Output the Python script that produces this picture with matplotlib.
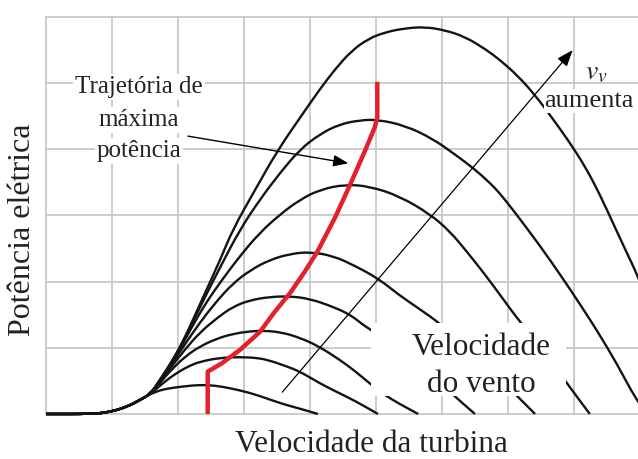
import matplotlib
matplotlib.use('Agg')
import matplotlib.pyplot as plt
from matplotlib.patches import Rectangle, PathPatch
from matplotlib.path import Path

plt.rcParams['font.family'] = ['Liberation Serif', 'DejaVu Serif']
plt.rcParams['mathtext.fontset'] = 'stix'

# ---- data (turbine speed in grid units, electric power in grid units) ----
start_x = [0.0, 0.71, 0.97, 1.23, 1.42, 1.58]
start_y = [0.0, 0.0, 0.03, 0.11, 0.21, 0.30]

c1_x = [1.73, 1.88, 2.11, 2.33, 2.56, 2.79, 3.09, 3.33, 3.59, 3.85, 4.12]
c1_y = [0.36, 0.39, 0.42, 0.44, 0.43, 0.39, 0.32, 0.24, 0.15, 0.08, 0.0]

c2_x = [1.73, 1.88, 2.03, 2.18, 2.33, 2.64, 2.94, 3.17, 3.35, 3.62, 3.85, 4.12, 4.35, 4.68, 5.03]
c2_y = [0.43, 0.55, 0.65, 0.73, 0.79, 0.85, 0.86, 0.85, 0.82, 0.73, 0.64, 0.48, 0.36, 0.20, 0.0]

c3_x = [1.73, 1.88, 2.11, 2.33, 2.59, 2.83, 3.09, 3.32, 3.59, 3.85, 4.12, 4.45, 4.68, 4.92, 5.11, 5.36, 5.64]
c3_y = [0.47, 0.65, 0.87, 1.02, 1.14, 1.21, 1.25, 1.26, 1.23, 1.15, 1.03, 0.82, 0.65, 0.45, 0.30, 0.15, 0.0]

c4_x = [1.73, 1.88, 2.11, 2.33, 2.59, 2.83, 3.09, 3.39, 3.70, 4.00, 4.35, 4.61, 4.80, 4.94, 5.29, 5.67, 5.97, 6.20, 6.50]
c4_y = [0.49, 0.69, 0.98, 1.23, 1.45, 1.62, 1.72, 1.77, 1.78, 1.74, 1.62, 1.50, 1.35, 1.26, 1.02, 0.73, 0.48, 0.26, 0.0]

c5_x = [1.73, 1.88, 2.11, 2.33, 2.59, 2.83, 3.09, 3.39, 3.70, 4.00, 4.35, 4.68, 5.03, 5.36, 5.67, 5.98, 6.42, 6.80, 7.15, 7.41]
c5_y = [0.50, 0.72, 1.06, 1.38, 1.71, 1.97, 2.17, 2.33, 2.42, 2.45, 2.39, 2.24, 2.05, 1.79, 1.58, 1.36, 0.97, 0.61, 0.26, 0.0]

c6_x = [1.73, 1.88, 2.03, 2.18, 2.41, 2.64, 2.94, 3.24, 3.55, 3.85, 4.15, 4.53, 4.91, 5.36, 5.82, 6.12, 6.38, 6.65, 6.88, 7.18, 7.56, 7.88, 8.24]
c6_y = [0.51, 0.74, 0.98, 1.26, 1.66, 1.99, 2.39, 2.74, 3.02, 3.24, 3.39, 3.47, 3.44, 3.29, 3.02, 2.76, 2.45, 2.11, 1.80, 1.39, 0.94, 0.48, 0.0]

c7_x = [1.73, 1.88, 2.03, 2.18, 2.41, 2.64, 2.94, 3.24, 3.55, 3.85, 4.15, 4.45, 4.76, 5.02, 5.44, 5.86, 6.20, 6.47, 6.73, 6.88, 7.08, 7.48, 7.83, 8.09, 8.35, 8.65, 8.95, 9.12]
c7_y = [0.52, 0.75, 1.00, 1.30, 1.77, 2.22, 2.79, 3.24, 3.65, 4.00, 4.23, 4.38, 4.44, 4.45, 4.36, 4.16, 3.92, 3.72, 3.49, 3.33, 3.08, 2.55, 2.05, 1.66, 1.26, 0.76, 0.20, 0.0]

c8_x = [1.73, 1.88, 2.03, 2.18, 2.41, 2.64, 2.83, 3.17, 3.50, 3.85, 4.15, 4.38, 4.62, 4.88, 5.14, 5.44, 5.74, 6.05, 6.35, 6.65, 6.88, 7.15, 7.41, 7.65, 7.91, 8.17, 8.39, 8.58, 8.77, 8.97, 9.30]
c8_y = [0.52, 0.75, 1.01, 1.32, 1.83, 2.33, 2.79, 3.39, 3.97, 4.48, 4.91, 5.21, 5.48, 5.67, 5.77, 5.83, 5.85, 5.80, 5.70, 5.52, 5.35, 5.11, 4.82, 4.50, 4.14, 3.74, 3.32, 2.91, 2.50, 2.08, 1.27]

curves_x = [c1_x, c2_x, c3_x, c4_x, c5_x, c6_x, c7_x, c8_x]
curves_y = [c1_y, c2_y, c3_y, c4_y, c5_y, c6_y, c7_y, c8_y]

# maximum power point trajectory
mpp_x = [2.45, 2.45, 2.67, 2.94, 3.24, 3.47, 3.70, 3.92, 4.11, 4.38, 4.61, 4.83, 4.98, 5.02, 5.02]
mpp_y = [0.0, 0.64, 0.77, 0.97, 1.24, 1.55, 1.83, 2.15, 2.45, 2.97, 3.47, 3.97, 4.33, 4.48, 5.02]

traj_label = ['Trajetória de', 'máxima', 'potência']
wind_label = ['Velocidade', 'do vento']
x_label = 'Velocidade da turbina'
y_label = 'Potência elétrica'


def smooth_path(xs, ys):
    """Quadratic B-spline path using the data points as control points."""
    pts = list(zip(xs, ys))
    verts = [pts[0], ((pts[0][0] + pts[1][0]) / 2, (pts[0][1] + pts[1][1]) / 2)]
    codes = [Path.MOVETO, Path.LINETO]
    for i in range(1, len(pts) - 1):
        mid = ((pts[i][0] + pts[i + 1][0]) / 2, (pts[i][1] + pts[i + 1][1]) / 2)
        verts += [pts[i], mid]
        codes += [Path.CURVE3, Path.CURVE3]
    verts.append(pts[-1])
    codes.append(Path.LINETO)
    return Path(verts, codes)


# ---- figure ----
fig = plt.figure(figsize=(6.38, 4.59), dpi=100)
ax = fig.add_axes([0.06176, 0.08366, 0.93824, 0.88649])
ax.set_xlim(-0.1, 8.97)
ax.set_ylim(-0.1, 6.05)
ax.set_xticks([])
ax.set_yticks([])
for s in ax.spines.values():
    s.set_visible(False)

grid_c = '#c8c8c8'
for gx in range(0, 9):
    ax.axvline(gx, ymin=0.1 / 6.15, ymax=6.1 / 6.15, color=grid_c, lw=1.3, zorder=0)
for gy in range(0, 7):
    ax.axhline(gy, xmin=0.1 / 9.07, xmax=1.0, color=grid_c, lw=1.3, zorder=0)

for cx, cy in zip(curves_x, curves_y):
    ax.add_patch(PathPatch(smooth_path(start_x + cx, start_y + cy), fill=False,
                           edgecolor='#141414', lw=1.7, capstyle='butt',
                           joinstyle='round', zorder=2))

ax.plot(mpp_x, mpp_y, color='#e3202b', lw=3.2, solid_capstyle='butt',
        solid_joinstyle='round', zorder=3)

# white area behind the wind speed label
ax.add_patch(Rectangle((4.92, 0.27), 2.96, 1.11, facecolor='white',
                       edgecolor='none', zorder=4))
ax.text(6.59, 0.89, wind_label[0], ha='center', va='baseline', fontsize=22.5,
        color='#222222', zorder=5)
ax.text(6.59, 0.33, wind_label[1], ha='center', va='baseline', fontsize=22.5,
        color='#222222', zorder=5)

for txt, yy in zip(traj_label, [4.85, 4.36, 3.88]):
    ax.text(1.41, yy, txt, ha='center', va='baseline', fontsize=18,
            color='#222222', zorder=5,
            bbox=dict(facecolor='white', edgecolor='none', pad=1.5))

ax.annotate('', xy=(4.58, 3.79), xytext=(2.15, 4.20),
            arrowprops=dict(arrowstyle='-|>,head_length=0.9,head_width=0.35',
                            color='black', lw=1.0, shrinkA=0, shrinkB=0),
            zorder=6)
ax.annotate('', xy=(7.98, 5.50), xytext=(3.58, 0.33),
            arrowprops=dict(arrowstyle='-|>,head_length=1.0,head_width=0.38',
                            color='black', lw=0.9, shrinkA=0, shrinkB=0),
            zorder=6)

ax.text(8.17, 5.06, r'$v_v$', ha='left', va='baseline', fontsize=20,
        color='#222222', zorder=5)
ax.text(8.23, 4.64, 'aumenta', ha='center', va='baseline', fontsize=19,
        color='#222222', zorder=5,
        bbox=dict(facecolor='white', edgecolor='none', pad=0.5))

fig.text(0.5815, 0.0153, x_label, ha='center', va='baseline', fontsize=22.5,
         color='#222222')
fig.text(0.036, 0.499, y_label, ha='center', va='center', rotation=90,
         fontsize=23, color='#222222')

fig.savefig('out.png', dpi=100, facecolor='white')
